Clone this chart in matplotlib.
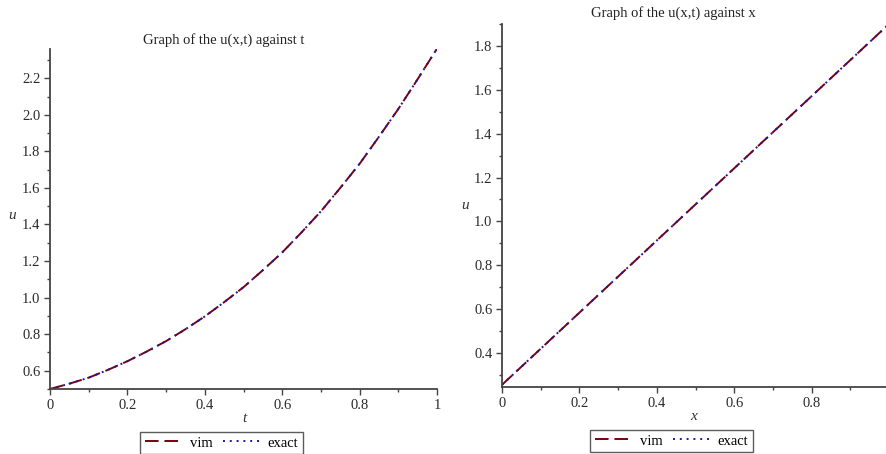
import matplotlib
matplotlib.use("Agg")
import matplotlib.pyplot as plt
from matplotlib.ticker import MultipleLocator, FormatStrFormatter

# ---- data ----
t_vals = [0.0, 0.05, 0.1, 0.15, 0.2, 0.25, 0.3, 0.35, 0.4, 0.45, 0.5,
          0.55, 0.6, 0.65, 0.7, 0.75, 0.8, 0.85, 0.9, 0.95, 1.0]
u_vim_t = [0.500, 0.529, 0.562, 0.605, 0.652, 0.705, 0.762, 0.827, 0.897, 0.975, 1.057,
           1.150, 1.247, 1.357, 1.472, 1.600, 1.732, 1.880, 2.032, 2.195, 2.362]
u_exact_t = [0.500, 0.529, 0.562, 0.605, 0.652, 0.705, 0.762, 0.827, 0.897, 0.975, 1.057,
             1.150, 1.247, 1.357, 1.472, 1.600, 1.732, 1.880, 2.032, 2.195, 2.362]

x_vals = [0.0, 0.2, 0.4, 0.6, 0.8, 1.0]
u_vim_x = [0.255, 0.584, 0.913, 1.242, 1.571, 1.90]
u_exact_x = [0.255, 0.584, 0.913, 1.242, 1.571, 1.90]

titles = ["Graph of the u(x,t) against t", "Graph of the u(x,t) against x"]
xlabels = ["t", "x"]

VIM_C = "#7a0010"
EXACT_C = "#1a1aa0"
SERIF = "Liberation Serif"
FS = 10.5

fig = plt.figure(figsize=(8.86, 4.54), dpi=100)
W, H = 886.0, 454.0

def ax_at(x0, y_top, x1, y_bot):
    return fig.add_axes([x0 / W, 1 - y_bot / H, (x1 - x0) / W, (y_bot - y_top) / H])

ax1 = ax_at(50, 49, 437, 389)
ax2 = ax_at(502, 24, 889, 387)

def style(ax, xlim, ylim):
    ax.set_xlim(*xlim)
    ax.set_ylim(*ylim)
    for s in ["top", "right"]:
        ax.spines[s].set_visible(False)
    for s in ["left", "bottom"]:
        ax.spines[s].set_color("#444444")
        ax.spines[s].set_linewidth(1.3)
    ax.xaxis.set_major_locator(MultipleLocator(0.2))
    ax.xaxis.set_minor_locator(MultipleLocator(0.1))
    ax.yaxis.set_major_locator(MultipleLocator(0.2))
    ax.yaxis.set_minor_locator(MultipleLocator(0.1))
    ax.yaxis.set_major_formatter(FormatStrFormatter("%.1f"))
    ax.xaxis.set_major_formatter(plt.FuncFormatter(
        lambda v, p: "0" if abs(v) < 1e-9 else ("1" if abs(v - 1) < 1e-9 else f"{v:.1f}")))
    ax.tick_params(which="major", length=4, width=1, color="#444444",
                   labelsize=FS, labelcolor="#2a2a2a", pad=3)
    ax.tick_params(which="minor", length=2.5, width=1, color="#444444")
    for lab in ax.get_xticklabels() + ax.get_yticklabels():
        lab.set_family(SERIF)

# left panel
ax1.plot(t_vals, u_vim_t, color=VIM_C, lw=1.4, ls=(0, (7, 3)), label="vim")
ax1.plot(t_vals, u_exact_t, color=EXACT_C, lw=1.4, ls=(0, (1, 2.5)), label="exact")
style(ax1, (0, 1), (0.5, 2.36))

# right panel
ax2.plot(x_vals, u_vim_x, color=VIM_C, lw=1.4, ls=(0, (7, 3)), label="vim")
ax2.plot(x_vals, u_exact_x, color=EXACT_C, lw=1.4, ls=(0, (1, 2.5)), label="exact")
style(ax2, (0, 1), (0.245, 1.90))

# titles
fig.text(224 / W, 1 - 40 / H, titles[0], ha="center", va="center",
         family=SERIF, fontsize=FS, color="#222222")
fig.text(673 / W, 1 - 13 / H, titles[1], ha="center", va="center",
         family=SERIF, fontsize=FS, color="#222222")

# axis labels
fig.text(12 / W, 1 - 216 / H, "u", ha="center", va="center", family=SERIF,
         style="italic", fontsize=11, color="#333333")
fig.text(465 / W, 1 - 205 / H, "u", ha="center", va="center", family=SERIF,
         style="italic", fontsize=11, color="#333333")
fig.text(244 / W, 1 - 418 / H, xlabels[0], ha="center", va="center", family=SERIF,
         style="italic", fontsize=11, color="#333333")
fig.text(694 / W, 1 - 416 / H, xlabels[1], ha="center", va="center", family=SERIF,
         style="italic", fontsize=11, color="#333333")

# legends
for ax, cx, top in [(ax1, 221.5, 432), (ax2, 671.5, 430)]:
    h, l = ax.get_legend_handles_labels()
    leg = fig.legend(h, l, loc="upper center", bbox_to_anchor=(cx / W, 1 - top / H),
                     ncol=2, frameon=True, fancybox=False, handlelength=2.6,
                     handletextpad=0.5, columnspacing=0.7, borderpad=0.3,
                     borderaxespad=0,
                     prop={"family": SERIF, "size": FS})
    leg.get_frame().set_edgecolor("#333333")
    leg.get_frame().set_linewidth(1.0)

fig.savefig("out.png", dpi=100)
